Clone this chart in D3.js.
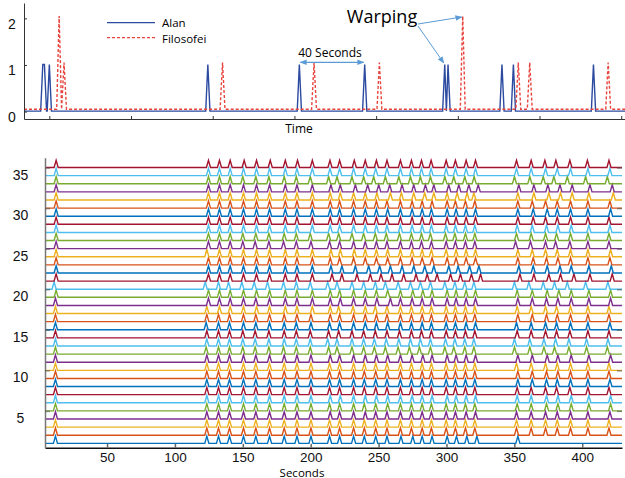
<!DOCTYPE html>
<html>
<head>
<meta charset="utf-8">
<script src="https://cdn.jsdelivr.net/npm/d3@7"></script>
<style>
body { margin: 0; background: #fff; }
svg { display: block; }
</style>
</head>
<body>
<svg width="625" height="478"></svg>
<script>
// ---- top panel: spike events, [time in s, height]
var alanSpikes = [[46,1],[47,1],[50,1],[147,1],[203,1],[243,1],[292,1],[294,1],[327,1],[334,1],[383,1]];
var filosofeiSpikes = [[56,2],[59,1],[156,1],[212,1],[252,1],[303,2],[337,1],[344,1],[392,1]];
var topTicksY = [0, 1, 2];
var topTicksX = [50, 100, 150, 200, 250, 300, 350, 400];

// ---- bottom panel: spike times per row (row 1 first)
var rowColors = ["#0072bd", "#d95319", "#edb120", "#7e2f8e", "#77ac30", "#4dbeee", "#a2142f"];
var onsetA = [12,12,12,12,12,12,12,12,12,12,12,12,12,12,12,12,12,12,12.5,11,12.5,12.5,12.5,12.5,12.5,12.5,12.5,12.5,12.5,12.5,12.5,12.5,12.5,12.5,12.5];
var burstB = [
	[123.5,132.1,140.2,150.5,159.6,169.7,180.5,189.9,200.2,213.9,221.3,231.6,239.5,247.9,256.2],
	[123.5,132.1,140.2,150.5,159.6,169.7,180.5,189.9,200.2,213.9,221.3,231.6,239.5,247.9,256.2],
	[123.5,132.1,140.2,150.5,159.6,169.7,180.5,189.9,200.2,213.9,221.3,231.6,239.5,247.9,256.2],
	[123.5,132.1,140.2,150.5,159.6,169.7,180.5,189.9,200.2,214.4,221.3,231.6,240.2,247.9,256.2],
	[123.5,132.1,140.2,150.5,159.6,169.7,180.5,189.9,200.2,213.9,221.3,231.6,239.5,247.9,256.7],
	[123.5,132.1,140.2,150.5,159.6,169.7,180.5,189.9,200.2,214.4,221.8,231.6,240.2,248.4,256.7],
	[123.5,132.1,140.2,150.5,159.6,169.7,180.5,189.9,200.2,213.9,221.3,231.6,239.5,247.9,256.2],
	[123.5,132.1,140.2,150.5,159.6,169.7,180.5,189.9,200.2,213.9,221.3,231.6,239.5,247.9,256.2],
	[123.5,132.1,140.2,150.5,159.6,169.7,180.5,189.9,200.2,213.9,221.3,231.6,239.5,247.9,256.2],
	[123.5,132.1,140.2,150.5,159.6,169.7,180.5,189.9,200.2,213.9,221.3,231.6,239.5,247.9,256.2],
	[123.5,132.1,140.2,150.5,159.6,169.7,180.5,189.9,200.2,214.4,221.3,231.6,240.2,248.4,256.7],
	[123.0,132.1,140.2,150.0,159.1,169.2,180.0,189.4,199.7,213.2,219.4,230.4,239.0,246.9,255.0],
	[123.5,132.1,140.2,150.0,159.1,169.2,180.5,189.4,199.7,212.5,219.4,230.4,239.0,246.9,255.7],
	[123.5,132.1,140.2,150.0,159.1,169.2,180.5,189.4,199.7,213.2,220.6,230.4,239.0,247.6,256.2],
	[123.0,132.1,140.2,150.5,159.6,169.7,180.5,189.4,200.2,213.9,221.3,231.6,240.2,248.4,256.7],
	[123.5,132.1,140.2,150.5,159.6,169.7,180.5,189.9,200.2,214.4,221.3,231.6,240.2,248.4,256.2],
	[123.5,132.8,140.7,150.5,160.1,169.7,181.3,189.9,201.2,214.4,220.6,231.2,240.2,247.6,256.2],
	[124.7,132.8,140.7,150.5,159.6,169.7,181.3,189.9,201.2,214.4,221.8,231.6,240.2,248.8,258.7],
	[124.7,132.8,140.7,150.5,160.1,169.7,181.3,189.9,201.2,214.4,221.3,231.6,240.2,248.4,256.7],
	[122.3,132.1,139.5,149.3,158.4,168.2,180.0,189.4,199.7,212.5,219.4,230.4,239.0,247.6,255.0],
	[124.7,132.8,140.7,150.5,160.1,169.7,181.3,189.9,201.2,215.7,223.0,234.1,243.9,251.8,259.9],
	[124.7,132.8,140.7,150.5,160.1,169.7,181.3,189.9,201.2,214.9,223.0,232.9,242.7,250.8,258.7],
	[124.7,132.8,140.7,150.5,160.1,169.7,181.3,189.9,201.2,214.4,221.3,231.6,240.2,248.4,256.7],
	[123.5,132.8,140.7,150.5,160.1,169.7,181.3,189.9,201.2,214.9,221.8,232.1,240.2,248.4,256.7],
	[124.7,132.8,140.7,150.0,159.1,169.2,180.0,189.4,200.2,213.9,221.3,231.6,240.2,248.4,256.2],
	[124.7,132.8,140.7,150.0,159.6,169.2,180.5,189.4,199.7,213.2,220.6,230.4,239.0,247.6,255.7],
	[124.7,132.8,140.7,150.5,160.1,169.7,181.3,189.9,201.2,214.4,221.3,231.6,240.2,248.4,256.2],
	[124.7,132.8,140.7,150.5,160.1,169.7,181.3,189.9,201.2,214.4,221.3,231.6,240.2,248.4,256.2],
	[124.7,132.8,140.7,150.5,160.1,169.7,181.3,189.9,201.2,214.4,221.3,231.6,240.2,248.4,256.7],
	[124.7,132.8,140.7,150.5,160.1,169.7,181.3,189.9,201.2,214.4,221.3,231.6,240.2,248.4,256.2],
	[124.7,132.8,140.7,150.5,160.1,169.7,181.3,189.9,201.2,214.4,221.8,231.6,240.2,248.8,258.7],
	[124.7,132.8,140.7,150.5,160.1,169.7,181.3,189.9,201.2,214.9,221.8,232.9,242.0,250.1,258.2],
	[124.7,132.8,140.7,150.0,159.6,169.2,180.5,189.4,199.7,213.2,219.4,230.4,239.0,246.4,255.0],
	[124.7,132.8,140.7,150.5,160.1,169.7,181.3,189.9,201.2,214.2,221.3,231.6,240.2,247.9,256.2],
	[124.7,132.8,140.7,151.0,160.1,170.2,181.3,190.3,201.2,214.2,221.3,232.1,240.2,248.4,256.2]
];
var burstC = [
	[266.5,275.2,282.1,289.4,300.5,307.4,315.0,322.4],
	[266.1,274.2,282.1,288.9,299.8,306.6,314.0,320.9],
	[266.1,274.2,282.1,288.9,299.8,306.6,314.0,320.9],
	[266.1,274.2,282.1,288.9,299.8,306.6,314.5,321.4],
	[266.1,274.2,282.1,288.9,299.8,306.6,314.0,320.9],
	[266.1,274.7,282.1,289.4,300.5,307.1,314.5,321.4],
	[266.1,274.2,282.1,288.9,299.8,306.6,314.0,320.9],
	[266.1,274.2,282.1,288.9,299.8,306.6,314.0,320.9],
	[266.1,274.2,282.1,288.9,299.8,306.6,314.0,320.9],
	[266.1,274.2,282.1,288.9,299.8,306.6,314.0,320.9],
	[266.1,274.7,282.6,289.4,300.5,307.1,314.5,321.4],
	[264.4,272.7,280.1,288.2,298.8,305.4,313.5,320.2],
	[264.9,273.5,280.8,288.2,299.3,306.2,313.5,320.2],
	[265.4,274.2,281.6,288.9,299.8,306.6,314.0,320.9],
	[266.1,274.2,282.1,288.9,299.8,306.6,314.5,321.4],
	[266.1,274.2,282.1,288.9,299.8,306.6,314.0,320.9],
	[266.1,274.2,282.1,288.9,299.8,306.6,314.0,320.9],
	[266.1,274.7,282.1,289.4,300.5,307.1,314.5,321.4],
	[266.1,275.2,282.6,289.4,300.5,307.1,314.5,321.4],
	[264.4,273.5,280.8,288.2,298.8,306.2,313.5,320.2],
	[268.5,277.6,285.8,293.1,303.0,310.3,318.4,325.1],
	[267.3,275.9,284.0,290.7,301.7,308.6,317.0,323.9],
	[266.1,274.7,282.1,289.4,300.5,307.1,314.5,321.4],
	[266.1,274.7,282.1,288.9,299.8,307.1,314.5,321.4],
	[266.1,274.2,281.6,288.9,299.8,306.6,314.0,320.9],
	[265.4,274.2,281.6,288.2,299.3,306.2,314.0,320.9],
	[266.1,274.7,282.1,288.9,299.8,306.6,314.0,320.9],
	[266.1,274.7,282.1,288.9,300.5,307.1,314.5,321.4],
	[266.1,274.7,282.1,288.9,300.5,307.1,314.5,321.4],
	[266.1,274.7,282.1,289.4,300.5,306.6,314.0,320.9],
	[266.8,275.9,284.0,290.7,300.5,307.9,315.2,320.2],
	[267.3,275.9,284.5,290.7,301.7,309.1,316.5,323.4],
	[264.9,273.5,280.8,288.2,298.8,305.4,313.5,320.4],
	[266.1,274.2,281.6,288.7,299.8,306.6,314.5,321.4],
	[266.1,274.2,281.6,288.7,299.8,306.6,314.5,321.4]
];
var burstD = [
	[352.6],
	[351.6,362.4,373.0,381.6,391.4,404.2,419.7],
	[351.6,362.4,373.0,381.6,391.4,404.2,419.7],
	[351.6,362.4,373.0,381.6,391.4,404.2,420.4],
	[352.1,362.4,373.7,382.1,391.9,404.9,420.9],
	[352.1,362.4,373.7,382.1,391.9,404.9,420.9],
	[352.1,362.4,373.0,381.1,390.9,404.2,419.7],
	[352.6,363.2,373.7,381.6,391.4,404.2,420.4],
	[352.6,363.2,373.7,382.1,391.4,404.2,419.7],
	[351.6,362.4,373.0,381.6,391.4,404.2,419.7],
	[352.6,363.2,374.2,382.1,391.9,404.9,420.9],
	[350.1,361.4,371.8,379.6,390.2,403.2,418.5],
	[350.1,361.4,371.8,380.4,390.2,403.2,419.0],
	[352.1,362.4,373.0,381.1,390.9,404.2,419.7],
	[351.6,362.4,373.0,381.1,391.4,404.2,420.4],
	[352.6,363.2,373.7,381.6,391.4,404.2,419.7],
	[352.1,362.4,373.0,381.1,391.4,404.2,419.7],
	[352.6,363.2,373.7,382.1,391.9,404.9,420.9],
	[352.1,363.2,374.2,382.8,391.9,404.9,420.9],
	[350.1,360.7,371.3,379.6,389.0,402.5,418.9],
	[354.1,364.4,375.4,384.0,393.9,405.7,422.1],
	[353.3,363.9,374.2,383.6,391.9,404.9,421.4],
	[352.6,363.9,373.7,382.1,391.4,404.2,420.4],
	[352.6,363.2,373.0,381.6,391.4,404.2,420.9],
	[350.9,361.9,373.0,380.4,390.9,404.2,419.7],
	[351.6,362.4,373.0,381.1,391.4,404.2,419.7],
	[352.1,363.2,373.7,382.1,391.9,404.9,420.4],
	[352.6,363.9,373.0,381.6,391.4,404.2,419.7],
	[352.6,363.9,374.2,381.6,391.4,404.2,420.9],
	[352.6,363.2,373.0,381.6,391.4,404.2,420.4],
	[352.6,364.4,375.4,384.0,392.6,404.9,422.9],
	[353.3,364.4,374.7,383.6,392.6,405.7,422.1],
	[350.1,361.4,371.3,379.1,389.0,402.5,418.5],
	[351.6,362.4,373.0,381.6,391.4,404.2,420.4],
	[351.6,362.4,372.5,380.6,390.9,403.8,419.7]
];
var bottomTicksX = [50, 100, 150, 200, 250, 300, 350, 400];
var bottomTicksY = [5, 10, 15, 20, 25, 30, 35];

var svg = d3.select("svg");
var numFont = "'Liberation Sans', Arial, sans-serif";
var txtFont = "'Open Sans', 'Noto Sans', sans-serif";

var defs = svg.append("defs");
defs.append("marker")
	.attr("id", "arrowhead")
	.attr("viewBox", "0 -5 10 10")
	.attr("refX", 9)
	.attr("refY", 0)
	.attr("markerWidth", 7)
	.attr("markerHeight", 7)
	.attr("markerUnits", "userSpaceOnUse")
	.attr("orient", "auto-start-reverse")
	.append("path")
	.attr("d", "M0,-4L10,0L0,4Z")
	.attr("fill", "#5b9bd5");

// builds a polyline of a spiky trace from its events
function spikePoints(events, base, w, t0, t1) {
	var pts = [[t0, base]];
	events.forEach(function (e, i) {
		var prev = events[i - 1], next = events[i + 1];
		var gp = prev ? e[0] - prev[0] : Infinity;
		var gn = next ? next[0] - e[0] : Infinity;
		if (gp > 1.5) pts.push([e[0] - Math.min(w, gp / 2), base]);
		pts.push([e[0], base + e[1]]);
		if (gn > 1.5) pts.push([e[0] + Math.min(w, gn / 2), base]);
	});
	pts.push([t1, base]);
	return pts;
}

// ================= top panel =================
var xTop = d3.scaleLinear().domain([34.5, 402.3]).range([24, 625]);
var yTop = d3.scaleLinear().domain([-0.16, 2.33]).range([119, 3]);
var lineTop = d3.line().x(function (d) { return xTop(d[0]); }).y(function (d) { return yTop(d[1]); });

var topPanel = svg.append("g");
topPanel.append("path")
	.attr("d", lineTop(spikePoints(alanSpikes, 0.01, 1.3, 34.5, 402.3)))
	.attr("fill", "none")
	.attr("stroke", "#2b4aa0")
	.attr("stroke-width", 1.4);
topPanel.append("path")
	.attr("d", lineTop(spikePoints(filosofeiSpikes, 0.05, 1.5, 34.5, 402.3)))
	.attr("fill", "none")
	.attr("stroke", "#e8433c")
	.attr("stroke-width", 1.4)
	.attr("stroke-dasharray", "3,2");

topPanel.append("g")
	.attr("transform", "translate(0,119)")
	.call(d3.axisBottom(xTop).tickValues(topTicksX).tickSizeInner(-3).tickSizeOuter(0).tickFormat(""))
	.call(function (g) { g.selectAll("line,path").attr("stroke", "#333"); });
topPanel.append("g")
	.attr("transform", "translate(24,0)")
	.call(d3.axisLeft(yTop).tickValues(topTicksY).tickSizeInner(-3).tickSizeOuter(0).tickFormat(d3.format("d")))
	.call(function (g) {
		g.selectAll("line,path").attr("stroke", "#333");
		g.selectAll("text")
			.attr("x", -12)
			.attr("dy", "10px")
			.attr("text-anchor", "middle")
			.attr("font-family", numFont)
			.attr("font-size", 14)
			.attr("fill", "#111");
	});

topPanel.append("text")
	.attr("x", 299).attr("y", 133)
	.attr("text-anchor", "middle")
	.attr("font-family", txtFont).attr("font-size", 12)
	.text("Time");

// legend
var legend = topPanel.append("g").attr("font-family", txtFont).attr("font-size", 11.5);
legend.append("line").attr("x1", 107).attr("x2", 155).attr("y1", 22.7).attr("y2", 22.7)
	.attr("stroke", "#2b4aa0").attr("stroke-width", 1.2);
legend.append("text").attr("x", 162).attr("y", 26.8).text("Alan");
legend.append("line").attr("x1", 107).attr("x2", 155).attr("y1", 37.7).attr("y2", 37.7)
	.attr("stroke", "#e8433c").attr("stroke-width", 1.2).attr("stroke-dasharray", "3,2");
legend.append("text").attr("x", 162).attr("y", 42.6).text("Filosofei");

// annotations
topPanel.append("text")
	.attr("x", 330).attr("y", 57)
	.attr("text-anchor", "middle")
	.attr("font-family", txtFont).attr("font-size", 12)
	.text("40 Seconds");
topPanel.append("line")
	.attr("x1", xTop(203) + 1).attr("x2", xTop(243) - 1)
	.attr("y1", 62.3).attr("y2", 62.3)
	.attr("stroke", "#5b9bd5").attr("stroke-width", 1.2)
	.attr("marker-start", "url(#arrowhead)")
	.attr("marker-end", "url(#arrowhead)");

topPanel.append("text")
	.attr("x", 382).attr("y", 23)
	.attr("text-anchor", "middle")
	.attr("font-family", txtFont).attr("font-size", 18)
	.text("Warping");
topPanel.append("line")
	.attr("x1", 418).attr("y1", 24)
	.attr("x2", xTop(303) - 1).attr("y2", 17)
	.attr("stroke", "#5b9bd5").attr("stroke-width", 1)
	.attr("marker-end", "url(#arrowhead)");
topPanel.append("line")
	.attr("x1", 418).attr("y1", 26)
	.attr("x2", xTop(292) - 1).attr("y2", 63)
	.attr("stroke", "#5b9bd5").attr("stroke-width", 1)
	.attr("marker-end", "url(#arrowhead)");

// ================= bottom panel =================
var xBot = d3.scaleLinear().domain([4.3, 429.3]).range([45, 622]);
var yBot = d3.scaleLinear().domain([0.45, 36.2]).range([447.8, 157.8]);
var lineBot = d3.line().x(function (d) { return xBot(d[0]); }).y(function (d) { return yBot(d[1]); });

var rows = onsetA.map(function (a, i) {
	var times = [a].concat(burstB[i], burstC[i], burstD[i]);
	return { row: i + 1, events: times.map(function (t) { return [t, 0.9]; }) };
});

var bottomPanel = svg.append("g");
bottomPanel.selectAll("path.trace")
	.data(rows)
	.enter().append("path")
	.attr("class", "trace")
	.attr("d", function (d) { return lineBot(spikePoints(d.events, d.row, 1.5, 4.3, 429.3)); })
	.attr("fill", "none")
	.attr("stroke", function (d) { return rowColors[(d.row - 1) % 7]; })
	.attr("stroke-width", 1.4);

bottomPanel.append("g")
	.attr("transform", "translate(0,447.8)")
	.call(d3.axisBottom(xBot).tickValues(bottomTicksX).tickSizeInner(-4).tickSizeOuter(0).tickPadding(5))
	.call(function (g) {
		g.select("path").attr("stroke", "#111").attr("stroke-width", 1.5);
		g.selectAll("line").attr("stroke", "#666").attr("stroke-width", 1.5);
		g.selectAll("text").attr("font-family", numFont).attr("font-size", 13.5).attr("fill", "#111");
	});
bottomPanel.append("g")
	.attr("transform", "translate(45,0)")
	.call(d3.axisLeft(yBot).tickValues(bottomTicksY).tickSizeInner(-5).tickSizeOuter(0))
	.call(function (g) {
		g.select("path").attr("stroke", "#777").attr("stroke-width", 1.5);
		g.selectAll("line").attr("stroke", "#555").attr("stroke-opacity", 0.6).attr("stroke-width", 1.5);
		g.selectAll("text")
			.attr("x", -24.5)
			.attr("dy", "11.5px")
			.attr("text-anchor", "middle")
			.attr("font-family", numFont)
			.attr("font-size", 14)
			.attr("fill", "#111");
	});
bottomPanel.append("g")
	.attr("transform", "translate(622,0)")
	.call(d3.axisRight(yBot).tickValues(bottomTicksY).tickSizeInner(-5).tickSizeOuter(0).tickFormat(""))
	.call(function (g) {
		g.select("path").remove();
		g.selectAll("line").attr("stroke", "#555").attr("stroke-opacity", 0.6).attr("stroke-width", 1.5);
	});

bottomPanel.append("text")
	.attr("x", 302).attr("y", 476.5)
	.attr("text-anchor", "middle")
	.attr("font-family", txtFont).attr("font-size", 11.5)
	.text("Seconds");
</script>
</body>
</html>
